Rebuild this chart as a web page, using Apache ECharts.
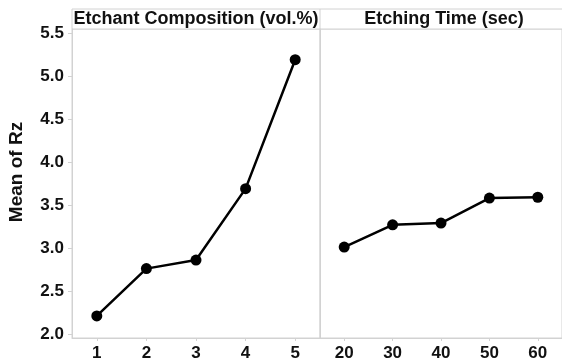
<!DOCTYPE html>
<html>
<head>
<meta charset="utf-8">
<script src="https://cdn.jsdelivr.net/npm/echarts@6/dist/echarts.min.js"></script>
<style>
  html, body { margin: 0; padding: 0; background: #fff; }
  #chart { width: 562px; height: 362px; }
</style>
</head>
<body>
<div id="chart"></div>
<script>
// panel 1: etchant composition levels
var compLevels = [1, 2, 3, 4, 5];
var compMeans = [2.21, 2.76, 2.86, 3.69, 5.19];
// panel 2: etching time levels (sec)
var timeLevels = [20, 30, 40, 50, 60];
var timeMeans = [3.01, 3.27, 3.29, 3.58, 3.59];
var yTicks = [2.0, 2.5, 3.0, 3.5, 4.0, 4.5, 5.0, 5.5];
var panelTitles = ['Etchant Composition (vol.%)', 'Etching Time (sec)'];

var FONT = '"Liberation Sans", Arial, sans-serif';
var GRAY = '#d2d2d2';
var TXT = '#111';

function pairs(xs, ys) {
	return xs.map(function (x, i) { return [x, ys[i]]; });
}

var gridTop = 29, gridH = 309;

var option = {
	animation: false,
	backgroundColor: '#fff',
	grid: [
		{left: 72, top: gridTop, width: 248, height: gridH, show: true, borderColor: GRAY, borderWidth: 1},
		{left: 320, top: gridTop, width: 248, height: gridH, show: true, borderColor: GRAY, borderWidth: 1}
	],
	xAxis: [{
		gridIndex: 0, type: 'value', min: 0.5, max: 5.5,
		axisLine: {lineStyle: {color: GRAY}},
		axisTick: {length: 3, lineStyle: {color: GRAY}, customValues: compLevels},
		splitLine: {show: false},
		axisLabel: {
			color: TXT, fontFamily: FONT, fontWeight: 'bold', fontSize: 17, margin: 7,
			customValues: compLevels
		}
	}, {
		gridIndex: 1, type: 'value', min: 15, max: 65,
		axisLine: {lineStyle: {color: GRAY}},
		axisTick: {length: 3, lineStyle: {color: GRAY}, customValues: timeLevels},
		splitLine: {show: false},
		axisLabel: {
			color: TXT, fontFamily: FONT, fontWeight: 'bold', fontSize: 17, margin: 7,
			customValues: timeLevels
		}
	}],
	yAxis: [{
		gridIndex: 0, type: 'value', min: 1.953, max: 5.547,
		axisLine: {show: true, lineStyle: {color: GRAY}},
		axisTick: {show: true, length: 4, lineStyle: {color: GRAY}, customValues: yTicks},
		splitLine: {show: false},
		axisLabel: {
			color: TXT, fontFamily: FONT, fontWeight: 'bold', fontSize: 17, margin: 8,
			customValues: yTicks,
			formatter: function (v) { return v.toFixed(1); }
		}
	}, {
		gridIndex: 1, type: 'value', min: 1.953, max: 5.547,
		axisLine: {show: true, lineStyle: {color: GRAY}},
		axisTick: {show: false},
		axisLabel: {show: false},
		splitLine: {show: false}
	}],
	graphic: [{
		type: 'rect', shape: {x: 72, y: 9, width: 496, height: 20},
		style: {fill: '#fff', stroke: GRAY, lineWidth: 1}
	}, {
		type: 'line', shape: {x1: 320, y1: 9, x2: 320, y2: 29},
		style: {stroke: GRAY, lineWidth: 1}
	}, {
		type: 'text', x: 196, y: 19,
		style: {text: panelTitles[0], font: 'bold 18px ' + FONT, fill: TXT, align: 'center', verticalAlign: 'middle'}
	}, {
		type: 'text', x: 444, y: 19,
		style: {text: panelTitles[1], font: 'bold 18px ' + FONT, fill: TXT, align: 'center', verticalAlign: 'middle'}
	}, {
		type: 'text', x: 17, y: 172, rotation: Math.PI / 2,
		style: {text: 'Mean of Rz', font: 'bold 19px ' + FONT, fill: TXT, align: 'center', verticalAlign: 'middle'}
	}],
	series: [{
		type: 'line', xAxisIndex: 0, yAxisIndex: 0,
		data: pairs(compLevels, compMeans),
		symbol: 'circle', symbolSize: 11,
		lineStyle: {color: '#000', width: 2.5},
		itemStyle: {color: '#000'}
	}, {
		type: 'line', xAxisIndex: 1, yAxisIndex: 1,
		data: pairs(timeLevels, timeMeans),
		symbol: 'circle', symbolSize: 11,
		lineStyle: {color: '#000', width: 2.5},
		itemStyle: {color: '#000'}
	}]
};

var myChart = echarts.init(document.getElementById('chart'));
myChart.setOption(option);
</script>
</body>
</html>
